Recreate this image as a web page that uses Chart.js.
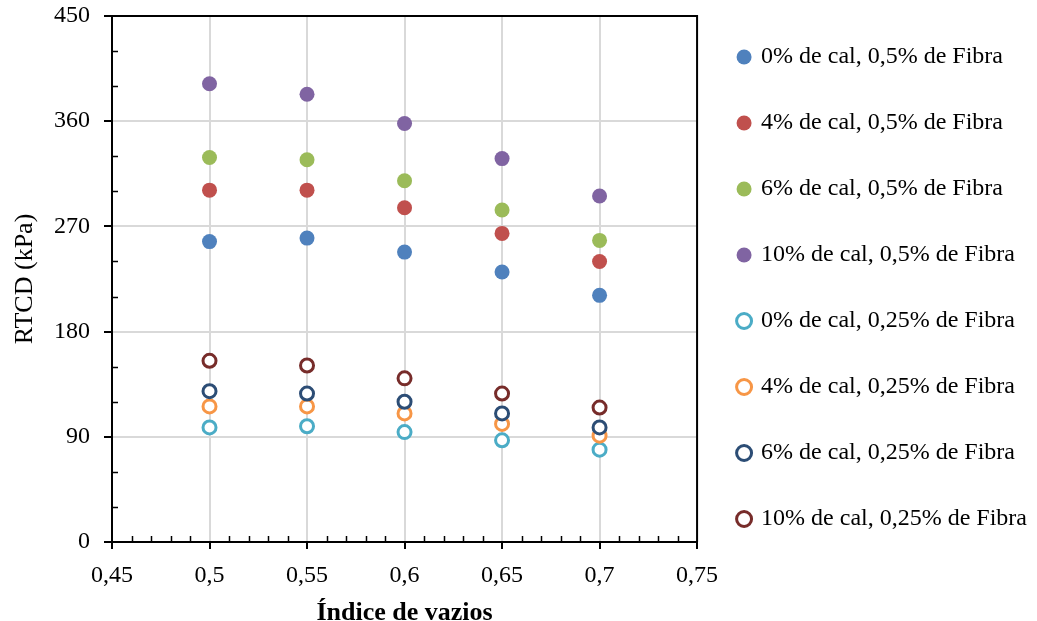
<!DOCTYPE html>
<html>
<head>
<meta charset="utf-8">
<script src="https://cdn.jsdelivr.net/npm/chart.js@4.4.0/dist/chart.umd.min.js"></script>
<style>
  html, body { margin: 0; padding: 0; background: #fff; }
</style>
</head>
<body>
<canvas id="rtcdChart" width="1037" height="621"></canvas>
<script>
// Índice de vazios (x) e RTCD em kPa (y)
const voidRatio = [0.5, 0.55, 0.6, 0.65, 0.7];
const xTickLabels = ['0,45', '0,5', '0,55', '0,6', '0,65', '0,7', '0,75'];
const seriesLabels = [
    '0% de cal, 0,5% de Fibra',
    '4% de cal, 0,5% de Fibra',
    '6% de cal, 0,5% de Fibra',
    '10% de cal, 0,5% de Fibra',
    '0% de cal, 0,25% de Fibra',
    '4% de cal, 0,25% de Fibra',
    '6% de cal, 0,25% de Fibra',
    '10% de cal, 0,25% de Fibra'
];
const cal0Fib05 = [257, 260, 248, 231, 211];
const cal4Fib05 = [301, 301, 286, 264, 240];
const cal6Fib05 = [329, 327, 309, 284, 258];
const cal10Fib05 = [392, 383, 358, 328, 296];
const cal0Fib025 = [98, 99, 94, 87, 79];
const cal4Fib025 = [116, 116, 110, 101, 91];
const cal6Fib025 = [129, 127, 120, 110, 98];
const cal10Fib025 = [155, 151, 140, 127, 115];

const seriesValues = [cal0Fib05, cal4Fib05, cal6Fib05, cal10Fib05,
    cal0Fib025, cal4Fib025, cal6Fib025, cal10Fib025];
const seriesColors = ['#4F81BD', '#C0504D', '#9BBB59', '#8064A2',
    '#4BACC6', '#F79646', '#2C4D75', '#772C2A'];

const FONT = "'Liberation Serif', 'Times New Roman', serif";

const datasets = seriesValues.map(function(vals, i) {
    const hollow = i >= 4;
    return {
        label: seriesLabels[i],
        data: vals.map(function(v, j) { return {x: voidRatio[j], y: v}; }),
        pointRadius: hollow ? 6.5 : 7.5,
        pointHoverRadius: hollow ? 6.5 : 7.5,
        pointBackgroundColor: hollow ? '#ffffff' : seriesColors[i],
        pointBorderColor: seriesColors[i],
        pointBorderWidth: hollow ? 3 : 0,
        backgroundColor: hollow ? '#ffffff' : seriesColors[i],
        borderColor: seriesColors[i],
        borderWidth: hollow ? 3 : 0,
        showLine: false,
        order: -i
    };
});

// moldura superior/direita e marcas secundárias dos eixos
const axisExtras = {
    id: 'axisExtras',
    afterDraw(chart) {
        const ctx = chart.ctx;
        const a = chart.chartArea;
        const xs = chart.scales.x;
        const ys = chart.scales.y;
        ctx.save();
        ctx.strokeStyle = '#000';
        ctx.lineWidth = 2;
        ctx.beginPath();
        ctx.moveTo(a.left, a.top);
        ctx.lineTo(a.right, a.top);
        ctx.lineTo(a.right, a.bottom);
        ctx.stroke();
        ctx.lineWidth = 1.5;
        ctx.beginPath();
        for (let v = 30; v < 450; v += 30) {
            if (v % 90 === 0) continue;
            const py = Math.round(ys.getPixelForValue(v)) + 0.5;
            ctx.moveTo(a.left, py);
            ctx.lineTo(a.left + 6, py);
        }
        for (let k = 46; k < 75; k++) {
            if (k % 5 === 0) continue;
            const px = Math.round(xs.getPixelForValue(k / 100)) + 0.5;
            ctx.moveTo(px, a.bottom);
            ctx.lineTo(px, a.bottom - 6);
        }
        ctx.stroke();
        ctx.restore();
    }
};

new Chart(document.getElementById('rtcdChart'), {
    type: 'scatter',
    data: { datasets: datasets },
    plugins: [axisExtras],
    options: {
        responsive: false,
        animation: false,
        layout: { padding: { top: 3, right: 0, bottom: 0, left: 0 } },
        plugins: {
            tooltip: { enabled: false },
            legend: {
                position: 'right',
                align: 'start',
                maxWidth: 400,
                labels: {
                    usePointStyle: true,
                    pointStyle: 'circle',
                    boxWidth: 10,
                    boxHeight: 10.6,
                    padding: 42,
                    color: '#000',
                    font: { family: FONT, size: 24 },
                    sort: function(a, b) { return a.datasetIndex - b.datasetIndex; }
                }
            }
        },
        scales: {
            x: {
                type: 'linear',
                min: 0.45,
                max: 0.75,
                afterFit: function(s) { s.height = 79; },
                ticks: {
                    stepSize: 0.05,
                    color: '#000',
                    padding: 12,
                    font: { family: FONT, size: 24 },
                    callback: function(value, index) { return xTickLabels[index]; }
                },
                grid: {
                    color: '#d9d9d9',
                    lineWidth: 2,
                    tickColor: '#000',
                    tickLength: 7
                },
                border: { color: '#000', width: 2 },
                title: {
                    display: true,
                    text: 'Índice de vazios',
                    color: '#000',
                    font: { family: FONT, size: 26, weight: 'bold', lineHeight: 0.6 },
                    padding: { top: 0, bottom: 0 }
                }
            },
            y: {
                min: 0,
                max: 450,
                afterFit: function(s) { s.width = 112; s.paddingTop = 16; },
                ticks: {
                    stepSize: 90,
                    color: '#000',
                    padding: 14,
                    font: { family: FONT, size: 24 }
                },
                grid: {
                    color: '#d9d9d9',
                    lineWidth: 2,
                    tickColor: '#000',
                    tickLength: 8
                },
                border: { color: '#000', width: 2 },
                title: {
                    display: true,
                    text: 'RTCD (kPa)',
                    color: '#000',
                    font: { family: FONT, size: 26 },
                    padding: { top: 10, bottom: 0 }
                }
            }
        }
    }
});
</script>
</body>
</html>
